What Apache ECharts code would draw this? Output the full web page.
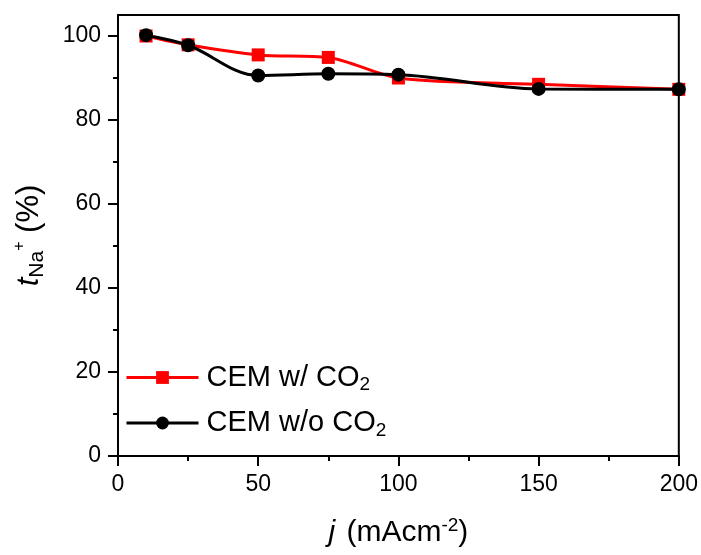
<!DOCTYPE html>
<html>
<head>
<meta charset="utf-8">
<script src="https://cdn.jsdelivr.net/npm/echarts@6/dist/echarts.min.js"></script>
<style>html,body{margin:0;padding:0;background:#fff}#c{width:701px;height:555px}</style>
</head>
<body>
<div id="c"></div>
<script>
const xValues = [10, 25, 50, 75, 100, 150, 200];
const withCO2 = [100, 97.9, 95.5, 94.9, 90.0, 88.5, 87.3];
const withoutCO2 = [100.2, 97.8, 90.6, 91.0, 90.8, 87.4, 87.3];
const seriesNames = ['CEM w/ CO2', 'CEM w/o CO2'];
const yMajorTicks = [0, 20, 40, 60, 80, 100];
const yMinorTicks = [10, 30, 50, 70, 90];

const FONT = 'Liberation Sans, Arial, sans-serif';
const chart = echarts.init(document.getElementById('c'), null, {renderer: 'canvas'});
const pairs = (ys) => xValues.map((x, i) => [x, ys[i]]);

chart.setOption({
  animation: false,
  backgroundColor: '#fff',
  textStyle: {fontFamily: FONT},
  grid: {left: 118, right: 22, top: 15, bottom: 99, show: true, borderColor: '#000', borderWidth: 2, backgroundColor: 'transparent'},
  xAxis: {
    type: 'value', min: 0, max: 200, interval: 50,
    axisLine: {show: true, lineStyle: {color: '#000', width: 2}},
    axisTick: {show: true, inside: false, length: 10, lineStyle: {color: '#000', width: 2}},
    minorTick: {show: true, splitNumber: 2, length: 5, lineStyle: {color: '#000', width: 2}},
    splitLine: {show: false},
    axisLabel: {fontSize: 23, color: '#000', margin: 17, fontFamily: FONT},
    name: '{i|j}{n| (mAcm}{sup|-2}{n|)}',
    nameLocation: 'middle', nameGap: 60,
    nameTextStyle: {
      color: '#000', fontFamily: FONT,
      rich: {
        i: {fontSize: 30, fontStyle: 'italic', color: '#000', fontFamily: FONT, padding: [0, 3, 0, 0]},
        n: {fontSize: 30, color: '#000', fontFamily: FONT},
        sup: {fontSize: 19, color: '#000', fontFamily: FONT, padding: [0, 0, 14, 0]}
      }
    }
  },
  yAxis: [{
    type: 'value', min: 0, max: 105,
    axisLine: {show: true, lineStyle: {color: '#000', width: 2}},
    axisTick: {show: true, length: 10, customValues: yMajorTicks, lineStyle: {color: '#000', width: 2}},
    axisLabel: {fontSize: 23, color: '#000', margin: 17, customValues: yMajorTicks, fontFamily: FONT},
    splitLine: {show: false},
    name: '{t|t}{sub|Na}{sup|+}{n| (%)}',
    nameLocation: 'middle', nameGap: 70, nameRotate: 90,
    nameTextStyle: {
      color: '#000', fontFamily: FONT,
      rich: {
        t: {fontSize: 31, fontStyle: 'italic', color: '#000', fontFamily: FONT},
        sub: {fontSize: 21, color: '#000', fontFamily: FONT, padding: [16, 0, 0, 0]},
        sup: {fontSize: 16, color: '#000', fontFamily: FONT, padding: [0, 0, 20, 0]},
        n: {fontSize: 31, color: '#000', fontFamily: FONT}
      }
    }
  }, {
    type: 'value', min: 0, max: 105, position: 'left',
    axisLine: {show: false},
    axisTick: {show: true, length: 5, customValues: yMinorTicks, lineStyle: {color: '#000', width: 2}},
    axisLabel: {show: false},
    splitLine: {show: false}
  }],
  legend: {
    orient: 'vertical', left: 120, top: 358,
    itemWidth: 72, itemHeight: 16, itemGap: 14,
    data: seriesNames,
    lineStyle: {width: 3},
    formatter: (name) => name.endsWith('CO2') ? '{a|' + name.slice(0, -1) + '}{s|2}' : name,
    textStyle: {
      color: '#000', fontFamily: FONT, padding: [0, 0, 0, 3],
      rich: {
        a: {fontSize: 29, color: '#000', fontFamily: FONT},
        s: {fontSize: 19, color: '#000', fontFamily: FONT, padding: [15, 0, 0, 0]}
      }
    }
  },
  series: [{
    name: seriesNames[0], type: 'line', smooth: 0.3,
    data: pairs(withCO2),
    symbol: 'rect', symbolSize: 13,
    lineStyle: {color: '#ff0000', width: 3},
    itemStyle: {color: '#ff0000'},
    z: 2
  }, {
    name: seriesNames[1], type: 'line', smooth: 0.35,
    data: pairs(withoutCO2),
    symbol: 'circle', symbolSize: 14,
    lineStyle: {color: '#000', width: 3},
    itemStyle: {color: '#000'},
    z: 3
  }]
});
</script>
</body>
</html>
